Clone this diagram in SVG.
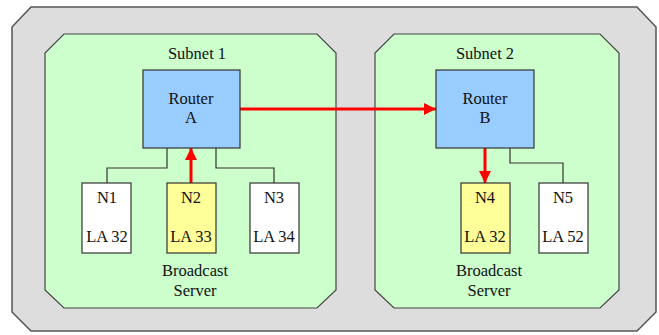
<svg xmlns="http://www.w3.org/2000/svg" width="659" height="335" viewBox="0 0 659 335">
<style>
.outer{fill:#dddddd;stroke:#555555;stroke-width:1.5}
.subnet{fill:#ccffcc;stroke:#444444;stroke-width:1.2}
.router{fill:#99ccff;stroke:#333333;stroke-width:1.2}
.node{fill:#ffffff;stroke:#333333;stroke-width:1.2}
.hl{fill:#ffff99;stroke:#333333;stroke-width:1.2}
.wire{fill:none;stroke:#333333;stroke-width:1.2}
.red{fill:none;stroke:#ff0000;stroke-width:3}
.t{font-family:'Liberation Serif','Times New Roman',serif;font-size:16.5px;fill:#111111;text-anchor:middle}
</style>
<defs>
<marker id="ah" markerWidth="12" markerHeight="12" viewBox="0 0 12 12" refX="12" refY="6" orient="auto" markerUnits="userSpaceOnUse">
<path d="M0,0 L12,6 L0,12 Z" fill="#ff0000"/>
</marker>
</defs>
<polygon class="outer" points="31,7 637,7 656,27 656,312 637,331 31,331 12,312 12,27"/>
<g id="subnet1">
<polygon class="subnet" points="64,34 317,34 336,53 336,290 317,308 64,308 45,290 45,53"/>
<text class="t" x="197" y="59">Subnet 1</text>
<text class="t" x="195" y="276">Broadcast</text>
<text class="t" x="195" y="296">Server</text>
</g>
<g id="subnet2">
<polygon class="subnet" points="394,34 600,34 619,53 619,290 600,308 394,308 375,290 375,53"/>
<text class="t" x="485" y="59">Subnet 2</text>
<text class="t" x="489" y="276">Broadcast</text>
<text class="t" x="489" y="296">Server</text>
</g>
<g id="connectors">
<polyline class="wire" points="167,148 167,168 107,168 107,183"/>
<polyline class="wire" points="216,148 216,168 274,168 274,183"/>
<polyline class="wire" points="510,148 510,163 563,163 563,183"/>
<line class="red" x1="191" y1="183" x2="191" y2="148" marker-end="url(#ah)"/>
<line class="red" x1="240" y1="109" x2="436" y2="109" marker-end="url(#ah)"/>
<line class="red" x1="485" y1="148" x2="485" y2="183" marker-end="url(#ah)"/>
</g>
<g id="routerA">
<rect class="router" x="143" y="70" width="97" height="78"/>
<text class="t" x="191" y="104">Router</text>
<text class="t" x="191" y="123">A</text>
</g>
<g id="routerB">
<rect class="router" x="436" y="70" width="98" height="78"/>
<text class="t" x="485" y="104">Router</text>
<text class="t" x="485" y="123">B</text>
</g>
<g id="N1">
<rect class="node" x="82" y="183" width="49" height="70"/>
<text class="t" x="107" y="203">N1</text>
<text class="t" x="107" y="242">LA 32</text>
</g>
<g id="N2">
<rect class="hl" x="167" y="183" width="49" height="70"/>
<text class="t" x="191" y="203">N2</text>
<text class="t" x="191" y="242">LA 33</text>
</g>
<g id="N3">
<rect class="node" x="250" y="183" width="49" height="70"/>
<text class="t" x="274" y="203">N3</text>
<text class="t" x="274" y="242">LA 34</text>
</g>
<g id="N4">
<rect class="hl" x="461" y="183" width="49" height="70"/>
<text class="t" x="485" y="203">N4</text>
<text class="t" x="485" y="242">LA 32</text>
</g>
<g id="N5">
<rect class="node" x="539" y="183" width="49" height="70"/>
<text class="t" x="563" y="203">N5</text>
<text class="t" x="563" y="242">LA 52</text>
</g>
</svg>
